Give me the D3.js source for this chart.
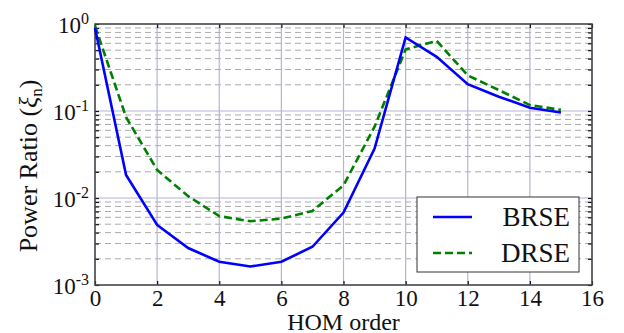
<!DOCTYPE html>
<html>
<head>
<meta charset="utf-8">
<script src="https://cdn.jsdelivr.net/npm/d3@7"></script>
</head>
<body style="margin:0; background:#fff">
<div id="chart"></div>
<script>
// HOM order on the x axis
const orders = [0, 1, 2, 3, 4, 5, 6, 7, 8, 9, 10, 11, 12, 13, 14, 15];
// power ratios
const brse = [0.9, 0.0184, 0.0049, 0.00266, 0.00185, 0.00163, 0.00185, 0.00275, 0.0068, 0.037, 0.70, 0.42, 0.203, 0.146, 0.109, 0.096];
const drse = [0.95, 0.085, 0.021, 0.0105, 0.0062, 0.0054, 0.0058, 0.0071, 0.014, 0.066, 0.51, 0.64, 0.257, 0.174, 0.117, 0.103];
const xTicks = [0, 2, 4, 6, 8, 10, 12, 14, 16];
const yExponents = [0, -1, -2, -3];

const width = 624, height = 333;
const margin = { top: 24, right: 32, bottom: 48, left: 95 };
const serif = '"Liberation Serif", "Times New Roman", serif';

const svg = d3.select('#chart')
    .append('svg')
    .attr('width', width)
    .attr('height', height);

const x = d3.scaleLinear()
    .domain([0, 16])
    .range([margin.left, width - margin.right]);

const y = d3.scaleLog()
    .domain([1e-3, 1])
    .range([height - margin.bottom, margin.top]);

// minor horizontal grid (dashed gray)
const minorVals = [];
[1e-3, 1e-2, 1e-1].forEach(d => {
    for (let k = 2; k <= 9; k++) minorVals.push(d * k);
});

svg.append('g')
    .selectAll('line')
    .data(minorVals)
    .enter()
    .append('line')
    .attr('x1', x(0))
    .attr('x2', x(16))
    .attr('y1', d => y(d))
    .attr('y2', d => y(d))
    .attr('stroke', '#aaaaaa')
    .attr('stroke-width', 1)
    .attr('stroke-dasharray', '6,4');

// major grid (lavender)
svg.append('g')
    .selectAll('line')
    .data(xTicks)
    .enter()
    .append('line')
    .attr('x1', d => x(d))
    .attr('x2', d => x(d))
    .attr('y1', y(1e-3))
    .attr('y2', y(1))
    .attr('stroke', '#b4b4dc')
    .attr('stroke-width', 1.2);

svg.append('g')
    .selectAll('line')
    .data(yExponents)
    .enter()
    .append('line')
    .attr('x1', x(0))
    .attr('x2', x(16))
    .attr('y1', d => y(Math.pow(10, d)))
    .attr('y2', d => y(Math.pow(10, d)))
    .attr('stroke', '#b4b4dc')
    .attr('stroke-width', 1.2);

// axes with inward ticks
const tickLen = 4;
const allY = minorVals.concat(yExponents.map(e => Math.pow(10, e)));
const gx = svg.append('g').attr('transform', `translate(0,${y(1e-3)})`)
    .call(d3.axisBottom(x).tickValues(xTicks).tickSize(-tickLen).tickPadding(5).tickFormat(d3.format('d')));
const gxTop = svg.append('g').attr('transform', `translate(0,${y(1)})`)
    .call(d3.axisTop(x).tickValues(xTicks).tickSize(-tickLen).tickFormat(''));
const gy = svg.append('g').attr('transform', `translate(${x(0)},0)`)
    .call(d3.axisLeft(y).tickValues(allY).tickSize(-tickLen).tickFormat(''));
const gyRight = svg.append('g').attr('transform', `translate(${x(16)},0)`)
    .call(d3.axisRight(y).tickValues(allY).tickSize(-tickLen).tickFormat(''));

[gx, gxTop, gy, gyRight].forEach(g => {
    g.attr('font-family', null);
    g.select('.domain').remove();
    g.selectAll('.tick line').attr('stroke', '#111').attr('stroke-width', 1.2);
});
gx.selectAll('.tick text')
    .attr('font-size', 23)
    .attr('fill', '#111');

// y tick labels with superscript exponents
const yLab = svg.append('g')
    .selectAll('text')
    .data(yExponents)
    .enter()
    .append('text')
    .attr('x', x(0) - 6)
    .attr('y', d => y(Math.pow(10, d)) + 9)
    .attr('text-anchor', 'end')
    .attr('font-size', 23);
yLab.append('tspan').text('10');
yLab.append('tspan')
    .attr('dy', -9)
    .attr('font-size', 16)
    .text(d => String(d));

// frame
svg.append('rect')
    .attr('x', x(0))
    .attr('y', y(1))
    .attr('width', x(16) - x(0))
    .attr('height', y(1e-3) - y(1))
    .attr('fill', 'none')
    .attr('stroke', '#444')
    .attr('stroke-width', 1.5);

// lines
const line = d3.line()
    .x((d, i) => x(orders[i]))
    .y(d => y(d));

svg.append('path')
    .datum(drse)
    .attr('d', line)
    .attr('fill', 'none')
    .attr('stroke', '#007f00')
    .attr('stroke-width', 2.6)
    .attr('stroke-dasharray', '8,4');

svg.append('path')
    .datum(brse)
    .attr('d', line)
    .attr('fill', 'none')
    .attr('stroke', '#0000ff')
    .attr('stroke-width', 2.6);

// axis labels
svg.append('text')
    .attr('x', (x(0) + x(16)) / 2)
    .attr('y', 330)
    .attr('text-anchor', 'middle')
    .attr('font-size', 24)
    .text('HOM order');

const yTitle = svg.append('text')
    .attr('transform', 'translate(37,166) rotate(-90)')
    .attr('text-anchor', 'middle')
    .attr('font-size', 26);
yTitle.append('tspan').text('Power Ratio (');
yTitle.append('tspan').attr('font-style', 'italic').text('ξ');
yTitle.append('tspan').attr('font-size', 17).attr('dy', 5).text('n');
yTitle.append('tspan').attr('dy', -5).text(')');

// legend
const legendData = [
    { label: 'BRSE', color: '#0000ff', dash: null },
    { label: 'DRSE', color: '#007f00', dash: '8,4' }
];
const lg = svg.append('g').attr('transform', 'translate(417,197)');
lg.append('rect')
    .attr('width', 162)
    .attr('height', 75)
    .attr('fill', '#fff')
    .attr('stroke', '#333')
    .attr('stroke-width', 1);
const items = lg.selectAll('.item')
    .data(legendData)
    .enter()
    .append('g')
    .attr('class', 'item')
    .attr('transform', (d, i) => `translate(0,${20 + i * 36})`);
items.append('line')
    .attr('x1', 16)
    .attr('x2', 55)
    .attr('stroke', d => d.color)
    .attr('stroke-width', 2.6)
    .attr('stroke-dasharray', d => d.dash);
items.append('text')
    .attr('x', 153)
    .attr('y', 9)
    .attr('text-anchor', 'end')
    .attr('font-size', 27)
    .text(d => d.label);

// serif everywhere
svg.selectAll('text').style('font-family', serif).style('fill', '#111');
</script>
</body>
</html>
